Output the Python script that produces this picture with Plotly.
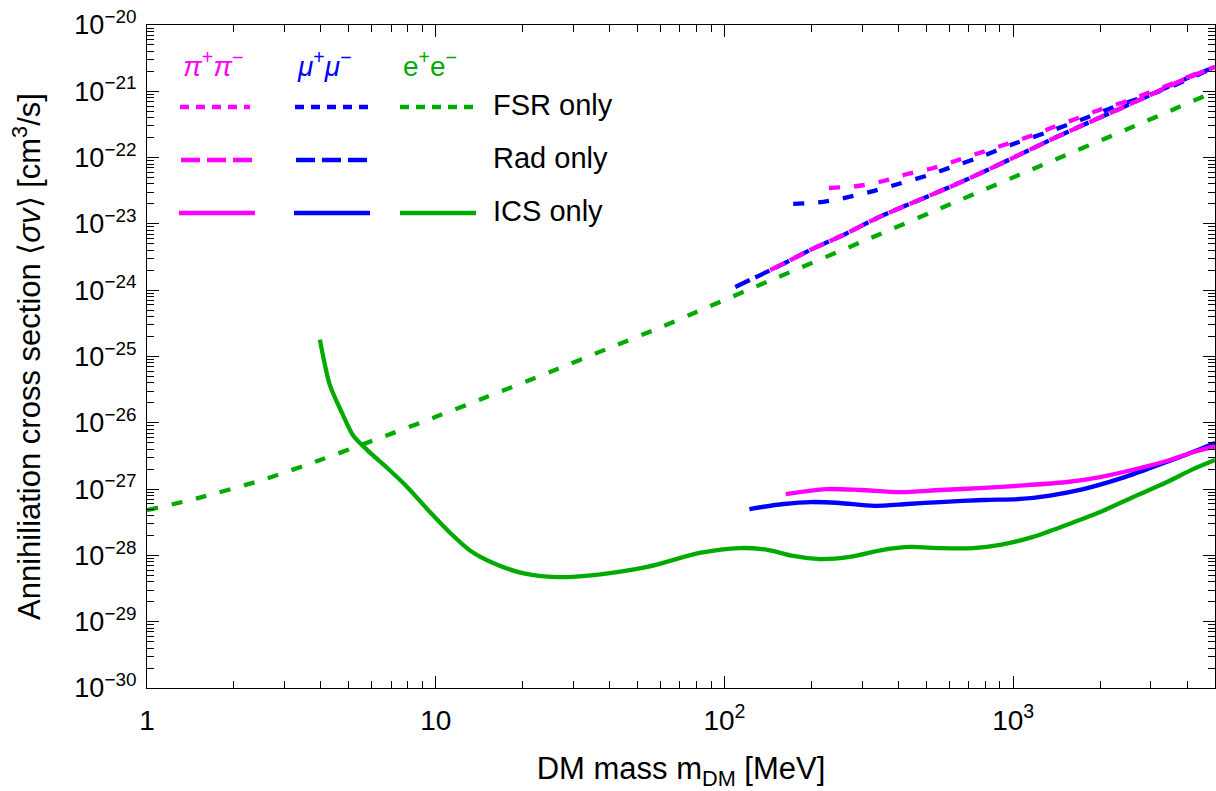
import plotly.graph_objects as go

# ---------------- data ----------------
# e+e- FSR only
m_ee_fsr = [1, 1.5, 2.5, 4, 6, 10, 15, 25, 40, 60, 80, 150, 300, 650, 1250, 2500, 5000]
sv_ee_fsr = [4.8e-28, 7.3e-28, 1.37e-27, 2.77e-27, 5.3e-27, 1.23e-26, 2.45e-26, 5.9e-26,
             1.35e-25, 2.75e-25, 4.7e-25, 1.51e-24, 5.4e-24, 2.26e-23, 7.6e-23, 2.72e-22, 9.9e-22]

# e+e- ICS only
m_ee_ics = [3.97, 4.3, 4.74, 5.17, 5.78, 6.78, 7.96, 9.55, 11.2, 13.1, 15.8, 20, 26.3, 36, 54, 82,
            113, 141, 173, 214, 272, 354, 439, 558, 726, 901, 1172, 1538, 2000, 2603, 3411, 4199, 5000]
sv_ee_ics = [1.8e-25, 3.7e-26, 1.4e-26, 6.5e-27, 3.9e-27, 2.1e-27, 1.08e-27, 4.5e-28, 2.2e-28, 1.2e-28,
             7.7e-29, 5.4e-29, 4.7e-29, 5.1e-29, 6.7e-29, 1.09e-28, 1.29e-28, 1.21e-28, 9.8e-29, 8.8e-29,
             9.5e-29, 1.21e-28, 1.34e-28, 1.29e-28, 1.29e-28, 1.44e-28, 1.9e-28, 2.9e-28, 4.5e-28,
             7.6e-28, 1.28e-27, 2.0e-27, 2.75e-27]

# mu+mu- FSR only
m_mu_fsr = [173, 220, 270, 330, 400, 500, 600, 750, 1000, 1300, 1700, 2200, 2800, 3500, 5000]
sv_mu_fsr = [2.0e-23, 2.15e-23, 2.55e-23, 3.15e-23, 4.0e-23, 5.3e-23, 7.0e-23, 9.8e-23, 1.6e-22,
             2.38e-22, 3.65e-22, 5.65e-22, 8.1e-22, 1.16e-21, 2.33e-21]

# mu+mu- Rad only
m_mu_rad = [109, 133, 162, 198, 258, 338, 450, 604, 787, 1031, 1342, 1746, 2289, 2980, 3878, 5000]
sv_mu_rad = [1.12e-24, 1.69e-24, 2.57e-24, 4.04e-24, 6.8e-24, 1.23e-23, 2.1e-23, 3.6e-23, 6.07e-23,
             1.06e-22, 1.84e-22, 3.1e-22, 5.23e-22, 8.8e-22, 1.48e-21, 2.33e-21]

# mu+mu- ICS only
m_mu_ics = [122, 160, 200, 250, 330, 430, 560, 790, 1060, 1340, 1750, 2300, 3000, 3900, 5000]
sv_mu_ics = [5.0e-28, 5.96e-28, 6.38e-28, 6.17e-28, 5.6e-28, 5.96e-28, 6.38e-28, 6.85e-28, 7.1e-28,
             8.0e-28, 1.0e-27, 1.4e-27, 2.1e-27, 3.2e-27, 4.96e-27]

# pi+pi- FSR only
m_pi_fsr = [230, 290, 355, 430, 530, 645, 780, 950, 1150, 1380, 1680, 2030, 2480, 2980, 3580, 4440, 5000]
sv_pi_fsr = [3.48e-23, 3.73e-23, 4.44e-23, 5.66e-23, 6.97e-23, 9.2e-23, 1.21e-22, 1.6e-22, 2.12e-22,
             2.9e-22, 3.96e-22, 5.41e-22, 7.15e-22, 9.76e-22, 1.33e-21, 1.95e-21, 2.33e-21]

# pi+pi- Rad only
m_pi_rad = [144, 162, 198, 258, 338, 450, 604, 787, 1031, 1342, 1746, 2289, 2980, 3878, 5000]
sv_pi_rad = [2.02e-24, 2.57e-24, 4.04e-24, 6.8e-24, 1.23e-23, 2.1e-23, 3.6e-23, 6.07e-23, 1.06e-22,
             1.84e-22, 3.1e-22, 5.23e-22, 8.8e-22, 1.48e-21, 2.33e-21]

# pi+pi- ICS only
m_pi_ics = [163, 225, 295, 405, 560, 790, 1120, 1540, 2000, 2600, 3400, 4200, 5000]
sv_pi_ics = [8.4e-28, 1.0e-27, 9.7e-28, 9.0e-28, 9.7e-28, 1.04e-27, 1.15e-27, 1.28e-27, 1.52e-27,
             1.96e-27, 2.65e-27, 3.6e-27, 4.4e-27]

x_tickvals = [1, 10, 100, 1000]
x_ticktext = ["1", "10", "10<sup>2</sup>", "10<sup>3</sup>"]
y_exponents = list(range(-30, -19))

# ---------------- styling ----------------
PINK = "#FF00FF"
BLUE = "#0000FF"
GREEN = "#00AA00"
FONT = "Liberation Sans, Arial, sans-serif"
LW = 4.3
DASH_FSR = "11px,14px"
DASH_RAD = "16px,6px"

W, H = 1216, 791
L, R, T, B = 147, 1, 25, 103

fig = go.Figure()


def add(x, y, color, dash):
    fig.add_trace(go.Scatter(
        x=x, y=y, mode="lines",
        line=dict(color=color, width=LW, dash=dash, shape="spline", smoothing=0.8),
        showlegend=False, hoverinfo="skip"))


add(m_ee_fsr, sv_ee_fsr, GREEN, DASH_FSR)
add(m_ee_ics, sv_ee_ics, GREEN, "solid")
add(m_mu_fsr, sv_mu_fsr, BLUE, DASH_FSR)
add(m_mu_rad, sv_mu_rad, BLUE, DASH_RAD)
add(m_mu_ics, sv_mu_ics, BLUE, "solid")
add(m_pi_fsr, sv_pi_fsr, PINK, DASH_FSR)
add(m_pi_rad, sv_pi_rad, PINK, DASH_RAD)
add(m_pi_ics, sv_pi_ics, PINK, "solid")

x_minor = [k * 10 ** e for e in range(0, 4) for k in range(2, 10) if k * 10 ** e <= 5000]
y_minor = [k * 10.0 ** e for e in range(-30, -20) for k in range(2, 10)]

axis_common = dict(
    type="log", showgrid=False, zeroline=False, showline=True, linecolor="black",
    linewidth=1.3, mirror="ticks", ticks="inside", ticklen=12, tickwidth=1.2,
    tickcolor="black",
)

fig.update_layout(
    width=W, height=H, margin=dict(l=L, r=R, t=T, b=B),
    plot_bgcolor="white", paper_bgcolor="white",
    xaxis=dict(**axis_common, range=[0, 3.69897],
               tickvals=x_tickvals, ticktext=x_ticktext,
               tickfont=dict(family=FONT, size=28, color="black"),
               ticklabelstandoff=7,
               minor=dict(ticks="inside", ticklen=7, tickwidth=1, tickcolor="black",
                          tickvals=x_minor, showgrid=False),
               title=dict(text="DM mass m<sub>DM</sub> [MeV]",
                          font=dict(family=FONT, size=31, color="black"), standoff=24)),
    yaxis=dict(**axis_common, range=[-30, -20],
               tickvals=[10.0 ** e for e in y_exponents],
               ticktext=["10<sup>\u2212%d</sup>" % (-e) for e in y_exponents],
               tickfont=dict(family=FONT, size=27, color="black"),
               ticklabelstandoff=4,
               minor=dict(ticks="inside", ticklen=7, tickwidth=1, tickcolor="black",
                          tickvals=y_minor, showgrid=False),
               title=dict(text="Annihiliation cross section \u27e8<i>\u03c3v</i>\u27e9 [cm<sup>3</sup>/s]",
                          font=dict(family=FONT, size=31, color="black"), standoff=24)),
)

# ---------------- hand-made legend ----------------
PW, PH = W - L - R, H - T - B


def px(xp):
    return (xp - L) / PW


def py(yp):
    return (H - B - yp) / PH


legend_rows = [
    (107, [(PINK, 180, 250), (BLUE, 295, 368), (GREEN, 400, 476)], "9px,7px", "FSR only"),
    (160, [(PINK, 181, 252), (BLUE, 296, 370)], "19px,7px", "Rad only"),
    (213, [(PINK, 179, 255), (BLUE, 294, 370), (GREEN, 400, 476)], "solid", "ICS only"),
]
for yrow, segs, dash, label in legend_rows:
    for col, x0, x1 in segs:
        fig.add_shape(type="line", xref="paper", yref="paper",
                      x0=px(x0), x1=px(x1), y0=py(yrow), y1=py(yrow),
                      line=dict(color=col, width=LW, dash=dash))
    fig.add_annotation(xref="paper", yref="paper", x=px(491), y=py(yrow - 2),
                       xanchor="left", yanchor="middle", showarrow=False, text=label,
                       font=dict(family=FONT, size=29, color="black"))

headers = [
    ("<i>\u03c0</i><sup>+</sup><i>\u03c0</i><sup>\u2212</sup>", PINK, 181),
    ("<i>\u03bc</i><sup>+</sup><i>\u03bc</i><sup>\u2212</sup>", BLUE, 295),
    ("e<sup>+</sup>e<sup>\u2212</sup>", GREEN, 401),
]
for txt, col, x0 in headers:
    fig.add_annotation(xref="paper", yref="paper", x=px(x0), y=py(64),
                       xanchor="left", yanchor="middle", showarrow=False, text=txt,
                       font=dict(family=FONT, size=28, color=col))

fig.write_html("out.html")
